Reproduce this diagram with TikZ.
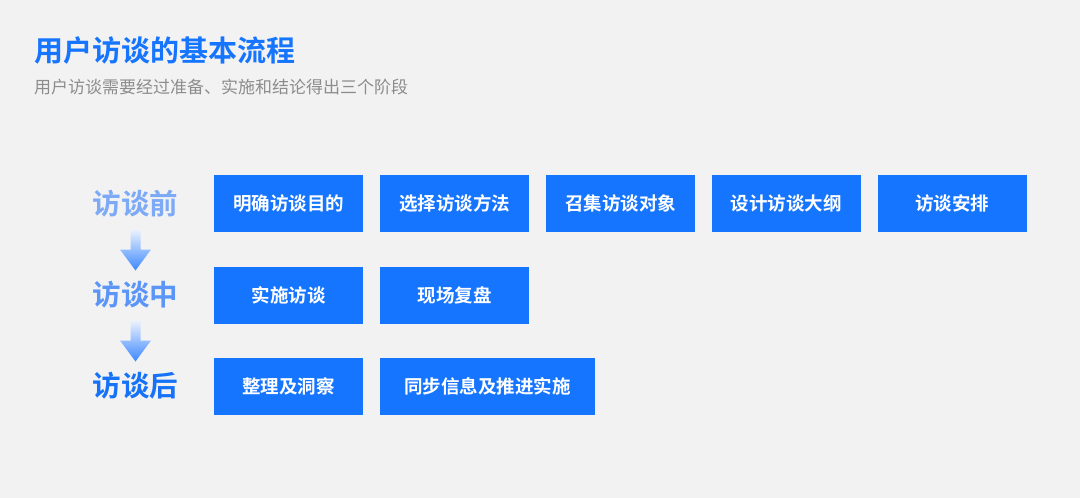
\documentclass[tikz,border=0pt]{standalone}
\usepackage{xcolor}
\usepackage{fontspec}
\usepackage{tikz}
\usetikzlibrary{positioning,calc}
\setmainfont{Noto Sans CJK SC}
\newfontfamily\cjkbold{Noto Sans CJK SC Bold}
\definecolor{canvas}{RGB}{242,242,242}
\definecolor{primary}{RGB}{22,117,255}
\definecolor{subtext}{RGB}{140,140,140}
\definecolor{stagea}{RGB}{125,170,247}
\definecolor{stageb}{RGB}{90,149,247}
\definecolor{stagec}{RGB}{22,114,246}
\definecolor{arrowtop}{RGB}{236,242,253}
\definecolor{arrowbot}{RGB}{60,135,255}

\newcommand{\stagearrow}[2]{%
	\shade[top color=arrowtop, bottom color=arrowbot]
	($(#1)!0.5!(#2)$) ++(-5,-20) -- ++(10,0) -- ++(0,20) -- ++(10.5,0)
	-- ++(-15.5,21) -- ++(-15.5,-21) -- ++(10.5,0) -- cycle;}

\begin{document}
\begin{tikzpicture}[
			x=1pt, y=-1pt,
			node distance=34pt and 16.5pt,
			box/.style={fill=primary, text=white, minimum width=149pt, minimum height=57pt, inner sep=0pt, font=\cjkbold\fontsize{18.5}{18.5}\selectfont},
			stage/.style={inner sep=0pt, font=\cjkbold\fontsize{28.5}{28.5}\selectfont}
		]

		\fill[canvas] (0,0) rectangle (1080,498);
		\useasboundingbox (0,0) rectangle (1080,498);

		% title
		\node[anchor=west, inner sep=0pt, text=primary, font=\cjkbold\fontsize{29}{29}\selectfont] (title) at (34,51) {用户访谈的基本流程};
		\node[anchor=west, inner sep=0pt, text=subtext, font=\fontsize{17}{17}\selectfont] (subtitle) at (34,87) {用户访谈需要经过准备、实施和结论得出三个阶段};

		% stages
		\node[stage, text=stagea] (pre) at (135.5,204) {访谈前};
		\node[stage, text=stageb] (mid) at (135.5,295) {访谈中};
		\node[stage, text=stagec] (post) at (135.5,386) {访谈后};
		\stagearrow{pre}{mid}
		\stagearrow{mid}{post}

		% before
		\node[box, anchor=north west] (goal) at (214,175) {明确访谈目的};
		\node[box, right=of goal] (method) {选择访谈方法};
		\node[box, right=of method] (recruit) {召集访谈对象};
		\node[box, right=of recruit] (outline) {设计访谈大纲};
		\node[box, right=of outline] (plan) {访谈安排};

		% during
		\node[box, below=of goal] (conduct) {实施访谈};
		\node[box, right=of conduct] (review) {现场复盘};

		% after
		\node[box, below=of conduct] (insight) {整理及洞察};
		\node[box, right=of insight, minimum width=215pt] (sync) {同步信息及推进实施};

	\end{tikzpicture}
\end{document}
